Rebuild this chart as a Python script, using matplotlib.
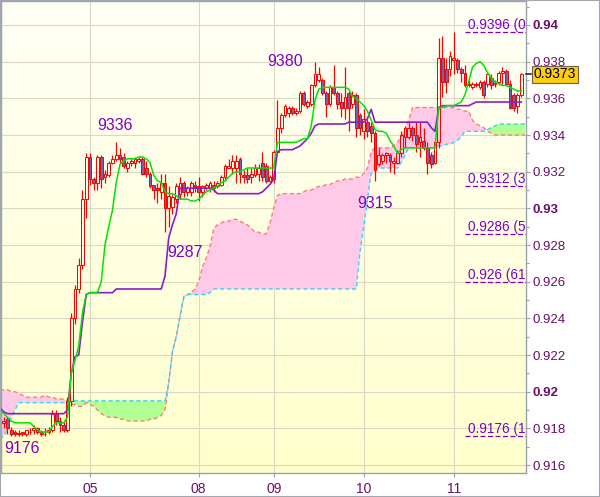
import matplotlib.pyplot as plt
import numpy as np
from matplotlib.collections import LineCollection
from matplotlib.colors import LinearSegmentedColormap
from matplotlib.patches import Rectangle
from matplotlib.transforms import blended_transform_factory, offset_copy

plt.rcParams['font.family'] = ['Liberation Sans', 'DejaVu Sans']

PIP = 1e-4

# hourly candles, bars 1..139, prices in pips (0.9183 -> 9183)
opens = [
    9183, 9185, 9179, 9178, 9177.5, 9178, 9177, 9178, 9179, 9180,
    9178, 9177, 9178, 9179, 9188, 9184, 9182, 9179, 9195, 9240,
    9256, 9269, 9305, 9328, 9316, 9314, 9328, 9317, 9318, 9325,
    9327, 9329, 9328, 9322, 9325, 9325, 9326, 9327, 9322, 9319,
    9313, 9311, 9309, 9314, 9300, 9301, 9305, 9308, 9314, 9309,
    9309, 9313, 9312, 9309, 9311, 9311, 9313, 9312, 9313, 9317,
    9322, 9322, 9322, 9327, 9318, 9318, 9317, 9318, 9319, 9325,
    9323, 9315, 9316, 9331, 9344, 9351, 9352, 9355, 9352, 9353,
    9363, 9356, 9357, 9367, 9370, 9370, 9363, 9357, 9366, 9363,
    9358, 9355, 9363, 9357, 9362, 9351, 9342, 9347, 9345, 9341,
    9324, 9326, 9329, 9329, 9325, 9325, 9330, 9339, 9339, 9344,
    9340, 9336, 9337, 9333, 9329, 9325, 9336, 9382, 9376, 9376,
    9381, 9381, 9376, 9374, 9368, 9366, 9367, 9366, 9369, 9368,
    9371, 9368.5, 9369, 9374, 9375, 9368, 9362, 9356, 9362,
]
highs = [
    9186, 9186, 9181, 9179, 9179, 9178, 9179, 9180, 9182, 9181,
    9179, 9180, 9181, 9190, 9190, 9186, 9184, 9197, 9243, 9258,
    9273, 9310, 9330, 9330, 9317, 9329, 9329, 9321, 9326, 9329,
    9336, 9333, 9330, 9326, 9327, 9328, 9328, 9328, 9326, 9320,
    9313, 9314, 9319, 9319, 9312, 9308, 9314, 9317, 9315, 9312,
    9315, 9315, 9317, 9313, 9314, 9315, 9315, 9315, 9318, 9324,
    9327, 9329, 9329, 9328, 9321, 9322, 9322, 9324, 9324, 9331,
    9325, 9318, 9332, 9359, 9352, 9357, 9356, 9356, 9355, 9364,
    9364, 9359, 9368, 9380, 9377, 9371, 9364, 9367, 9378, 9364,
    9363, 9377, 9364, 9364, 9363, 9352, 9354, 9349, 9347, 9342,
    9333, 9330, 9331, 9330, 9328, 9332, 9342, 9345, 9347, 9345,
    9347, 9347, 9344, 9336, 9331, 9337, 9393, 9394, 9382, 9386,
    9396, 9382, 9377, 9378, 9370, 9369, 9369, 9370, 9370, 9374,
    9373, 9370, 9375, 9377, 9376, 9370, 9363, 9363, 9374,
]
lows = [
    9180, 9177, 9176, 9176, 9176, 9176, 9176, 9177, 9177, 9177,
    9176, 9176, 9177, 9178, 9182, 9178, 9178, 9178, 9192, 9237,
    9254, 9267, 9295, 9313, 9310, 9310, 9311, 9314, 9317, 9324,
    9326, 9325, 9322, 9320, 9323, 9322, 9325, 9318, 9317, 9311,
    9305, 9303, 9305, 9287, 9290, 9297, 9303, 9305, 9306, 9307,
    9307, 9309, 9304, 9306, 9310, 9309, 9309, 9311, 9312, 9315,
    9322, 9319, 9314, 9314, 9314, 9314, 9314, 9317, 9315, 9315,
    9314, 9314, 9314, 9330, 9341, 9350, 9350, 9351, 9351, 9352,
    9356, 9355, 9356, 9366, 9369, 9362, 9350, 9356, 9362, 9354,
    9350, 9349, 9342, 9355, 9339, 9340, 9338, 9339, 9336, 9315,
    9323, 9324, 9325, 9320, 9319, 9324, 9328, 9333, 9338, 9337,
    9331, 9328, 9332, 9319, 9322, 9324, 9333, 9361, 9363, 9372,
    9373, 9374, 9369, 9366, 9366, 9365, 9366, 9365, 9360, 9366,
    9365, 9366, 9367, 9368, 9367, 9354, 9353, 9352, 9361,
]
closes = [
    9184, 9180, 9177, 9177, 9177, 9177, 9179, 9178, 9180, 9178,
    9177, 9177, 9179, 9188, 9184, 9182, 9179, 9195, 9240, 9256,
    9269, 9305, 9328, 9316, 9314, 9328, 9316, 9319, 9325, 9327,
    9329, 9327, 9323, 9325, 9326, 9327, 9327, 9319, 9319, 9312,
    9310, 9310, 9314, 9300, 9307, 9306, 9312, 9314, 9309, 9311,
    9314, 9311, 9309, 9312, 9313, 9314, 9311, 9314, 9317, 9323,
    9323, 9326, 9326, 9319, 9317, 9316, 9319, 9322, 9322, 9317,
    9315, 9317, 9331, 9344, 9351, 9356, 9355, 9352, 9353, 9363,
    9357, 9358, 9367, 9373, 9373, 9363, 9357, 9366, 9363, 9357,
    9355, 9361, 9355, 9362, 9344, 9344, 9349, 9342, 9341, 9321,
    9329, 9329, 9330, 9326, 9326, 9330, 9340, 9344, 9344, 9340,
    9335, 9339, 9333, 9325, 9324, 9336, 9382, 9369, 9369, 9383,
    9382, 9376, 9374, 9367, 9367, 9368, 9368, 9369, 9362, 9373,
    9367, 9368, 9374, 9375, 9368, 9355, 9355, 9362, 9373,
]

# Ichimoku tenkan / kijun, bars 0..139
tenkan = [
    9190, 9188, 9186, 9184, 9183, 9183, 9183, 9183, 9183, 9181,
    9179, 9178, 9178, 9178, 9181, 9183, 9183, 9183, 9186, 9210,
    9217, 9225, 9243, 9253, 9254, 9254, 9254, 9260, 9280, 9290,
    9299, 9314, 9324, 9326, 9327, 9327, 9327, 9328, 9328, 9327,
    9325, 9318, 9315, 9314, 9309, 9308, 9308, 9307, 9305, 9305,
    9305, 9304, 9304, 9305, 9307, 9309, 9310, 9311, 9312, 9314,
    9315, 9317, 9319, 9320, 9320, 9321, 9322, 9322, 9322, 9322,
    9322, 9322, 9322, 9322, 9336, 9336, 9336, 9336, 9336, 9336,
    9337, 9338, 9338, 9345, 9359, 9365, 9366, 9366, 9366, 9366,
    9366, 9366, 9366, 9365, 9361, 9360, 9358, 9356, 9353, 9348,
    9343, 9342, 9342, 9341, 9337, 9334, 9330, 9332, 9333, 9333,
    9333, 9333, 9333, 9333, 9333, 9333, 9333, 9355, 9355, 9356,
    9356, 9356, 9357, 9358, 9362, 9369, 9377, 9379, 9380, 9378,
    9374, 9371, 9369, 9368, 9367, 9367, 9366, 9365, 9364, 9364,
]
kijun = [
    9191, 9189, 9188, 9188, 9188, 9188, 9188, 9188, 9188, 9188,
    9188, 9188, 9188, 9188, 9188, 9188, 9188, 9188, 9190, 9210,
    9219, 9220, 9238, 9253, 9254, 9254, 9254, 9254, 9254, 9254,
    9254, 9256, 9256, 9256, 9256, 9256, 9256, 9256, 9256, 9256,
    9256, 9256, 9256, 9256, 9263, 9284, 9291, 9297, 9311, 9311,
    9311, 9311, 9311, 9311, 9311, 9311, 9311, 9310, 9308, 9308,
    9308, 9308, 9308, 9308, 9308, 9308, 9308, 9308, 9308, 9308,
    9309, 9311, 9313, 9316, 9331, 9332, 9332, 9332, 9332, 9333,
    9334, 9336, 9338, 9341, 9345, 9346, 9346, 9346, 9346, 9346,
    9346, 9346, 9346, 9347, 9347, 9347, 9347, 9347, 9349, 9354,
    9347, 9347, 9347, 9347, 9347, 9347, 9347, 9347, 9347, 9347,
    9347, 9347, 9347, 9347, 9347, 9344, 9342, 9355, 9356, 9356,
    9356, 9356, 9356, 9356, 9356, 9356, 9357, 9358, 9358, 9358,
    9358, 9358, 9358, 9358, 9358, 9358, 9358, 9358, 9358, 9358,
]

# shifted cloud edges, bars 0..140
senkou_a = [
    9174, 9176, 9179, 9186, 9190, 9194, 9194, 9194, 9194, 9194,
    9194, 9194, 9194, 9194, 9194, 9194, 9194, 9194, 9194, 9195,
    9195, 9195, 9195, 9195, 9195, 9195, 9195, 9195, 9195, 9195,
    9195, 9195, 9195, 9195, 9195, 9195, 9195, 9195, 9195, 9195,
    9195, 9195, 9195, 9195, 9195, 9205, 9222, 9230, 9241, 9252,
    9253, 9253, 9253, 9253, 9253, 9253, 9254, 9256, 9256, 9256,
    9256, 9256, 9256, 9256, 9256, 9256, 9256, 9256, 9256, 9256,
    9256, 9256, 9256, 9256, 9256, 9256, 9256, 9256, 9256, 9256,
    9256, 9256, 9256, 9256, 9256, 9256, 9256, 9256, 9256, 9256,
    9256, 9256, 9256, 9256, 9256, 9256, 9276, 9290, 9305, 9319,
    9321, 9322, 9322, 9322, 9322, 9322, 9322, 9325, 9329, 9333,
    9333, 9333, 9333, 9333, 9333, 9333, 9333, 9334, 9334, 9335,
    9335, 9336, 9337, 9339, 9342, 9342, 9342, 9342, 9342, 9342,
    9343, 9344, 9345, 9346, 9346, 9346, 9346, 9346, 9346, 9346, 9346,
]
senkou_b = [
    9201, 9201, 9201, 9200, 9200, 9199, 9198, 9197, 9197, 9197,
    9197, 9197, 9198, 9197, 9197, 9196, 9196, 9196, 9195, 9193,
    9193, 9192, 9192, 9194, 9193, 9192, 9190, 9188, 9187, 9186,
    9186, 9186, 9185, 9185, 9184, 9184, 9184, 9184, 9184, 9184,
    9185, 9185, 9186, 9187, 9190, 9205, 9222, 9230, 9241, 9251,
    9253, 9254, 9256, 9260, 9268, 9273, 9279, 9289, 9291, 9292,
    9293, 9293, 9294, 9294, 9293, 9292, 9291, 9289, 9287, 9287,
    9286, 9286, 9292, 9300, 9307, 9308, 9308, 9308, 9308, 9308,
    9308, 9309, 9310, 9310, 9311, 9312, 9312, 9313, 9313, 9314,
    9315, 9315, 9316, 9316, 9316, 9317, 9317, 9319, 9322, 9331,
    9333, 9333, 9333, 9333, 9333, 9334, 9336, 9339, 9343, 9348,
    9355, 9355, 9355, 9355, 9355, 9355, 9355, 9355, 9355, 9355,
    9355, 9355, 9354, 9354, 9353, 9353, 9348, 9346, 9345, 9344,
    9342, 9341, 9340, 9340, 9340, 9340, 9340, 9340, 9340, 9340, 9340,
]

day_bars = [24, 53, 73, 97, 121]
day_labels = ['05', '08', '09', '10', '11']

fib_levels = [9396, 9312, 9286, 9260, 9176]
fib_labels = ['0.9396 (0.0)', '0.9312 (38.2)', '0.9286 (50.0)',
              '0.926 (61.8)', '0.9176 (100.0)']
fib_start = 124

swing_bars = [6, 31, 44, 84, 100]
swing_prices = [9176, 9336, 9287, 9380, 9315]
last_price = 9373

# colours
RED = '#ff0000'
DOWN = '#7462ae'
GREEN = '#00e400'
PURPLE = '#8c1cc8'
PINK = '#ffcae8'
LIME = '#b2ff94'
CLOUD_A = '#33d4ff'
CLOUD_B = '#ff7b7b'
FIB = '#8000c8'
TICK = '#6a106a'
FRAME = '#9aa2aa'

fig = plt.figure(figsize=(6.0, 4.97), dpi=100)
fig.patch.set_facecolor('white')
ax = fig.add_axes([1 / 600, 24 / 497, 525 / 600, 472 / 497])

x0, x1 = 0.27, 140.27
y0, y1 = 0.915564, 0.941309

# background gradient
bg = LinearSegmentedColormap.from_list('bg', ['#fffff7', '#ffffcc'])
ax.imshow(np.linspace(0, 1, 256).reshape(-1, 1), cmap=bg,
          extent=[x0, x1, y0, y1], aspect='auto', origin='upper',
          zorder=0, interpolation='bilinear')

# cloud
xc = np.arange(len(senkou_a))
sa = np.array(senkou_a) * PIP
sb = np.array(senkou_b) * PIP
ax.fill_between(xc, sa, sb, where=sb >= sa, interpolate=True, color=PINK, lw=0, zorder=1)
ax.fill_between(xc, sa, sb, where=sa > sb, interpolate=True, color=LIME, lw=0, zorder=1)
ax.plot(xc, sb, color=CLOUD_B, lw=1.0, ls=(0, (3, 2)), zorder=2)
ax.plot(xc, sa, color=CLOUD_A, lw=1.0, ls=(0, (3, 2)), zorder=2)

# candles
xb = np.arange(1, len(opens) + 1)
wicks = []
for x, o, h, l, c in zip(xb, opens, highs, lows, closes):
    o, h, l, c = o * PIP, h * PIP, l * PIP, c * PIP
    top, bot = max(o, c), min(o, c)
    wicks += [[(x, top), (x, h)], [(x, l), (x, bot)]]
    face = 'none' if c >= o else DOWN
    ax.add_patch(Rectangle((x - 0.34, bot), 0.68, top - bot, fc=face,
                           ec=RED, lw=0.72, zorder=3))
ax.add_collection(LineCollection(wicks, colors=RED, lw=0.9, zorder=3))

# tenkan / kijun
xl = np.arange(len(tenkan))
ax.plot(xl, np.array(kijun) * PIP, color=PURPLE, lw=1.2, zorder=4)
ax.plot(xl, np.array(tenkan) * PIP, color=GREEN, lw=1.1, zorder=4)

# fibonacci levels
fib_tr = offset_copy(ax.transData, fig=fig, x=0, y=3, units='dots')
for lvl, txt in zip(fib_levels, fib_labels):
    p = lvl * PIP
    ax.plot([fib_start, x1], [p, p], color=FIB, lw=0.9, ls=(0, (4, 2)), zorder=5)
    ax.text(fib_start + 0.7, p, txt, transform=fib_tr, color=FIB, fontsize=9.8,
            ha='left', va='baseline', clip_on=True, zorder=6)

# swing high / low labels: (ha, dx px, dy px)
swing_layout = [('center', 0, -17), ('center', -1, 12), ('left', 2, -25),
                ('right', -12, -4), ('center', 0, -27)]
for b, p, (ha, dx, dy) in zip(swing_bars, swing_prices, swing_layout):
    tr = offset_copy(ax.transData, fig=fig, x=dx, y=dy, units='dots')
    ax.text(b, p * PIP, str(p), transform=tr, ha=ha, va='baseline',
            color=FIB, fontsize=11.5, zorder=6)

ax.set_xlim(x0, x1)
ax.set_ylim(y0, y1)

# axes, ticks, grid
ax.yaxis.tick_right()
yt = np.arange(916, 941, 2) / 1000
ax.set_yticks(yt)
ax.set_yticklabels([f'{v:g}' for v in yt])
ax.set_yticks(np.arange(916, 942, 1) / 1000, minor=True)
for v, lab in zip(yt, ax.get_yticklabels()):
    if round(v * 1000) % 10 == 0:
        lab.set_fontweight('bold')
        lab.set_fontsize(11)
ax.tick_params(axis='y', which='major', length=3, width=0.8, color=FRAME,
               pad=2, labelsize=9.5, labelcolor=TICK)
ax.tick_params(axis='y', which='minor', length=2, width=0.8, color=FRAME)

ax.set_xticks(day_bars)
ax.set_xticklabels(day_labels)
ax.tick_params(axis='x', length=3, width=0.8, color=FRAME, pad=3.5,
               labelsize=10, labelcolor=TICK)

ax.set_axisbelow(True)
ax.grid(True, which='major', color='#dadac4', lw=0.8)
for s in ax.spines.values():
    s.set_color(FRAME)
    s.set_linewidth(1.0)

# current price box
bt = blended_transform_factory(ax.transAxes, ax.transData)
lp = last_price * PIP
ax.plot([1.0, 1.01], [lp, lp], transform=bt, color='#303030', lw=1.2,
        clip_on=False, zorder=10)
ax.text(1.0143, lp, f'{lp:.4f}', transform=bt, ha='left', va='center',
        fontsize=10, color='black', clip_on=False, zorder=11,
        bbox=dict(boxstyle='square,pad=0.13', fc='#ffcc14', ec='#6e6040', lw=0.8))

# figure frame
fig.patches.append(Rectangle((0, 0), 1, 1, transform=fig.transFigure,
                             fill=False, ec='#a0a8b0', lw=1.5))

fig.savefig('out.png', dpi=100)
